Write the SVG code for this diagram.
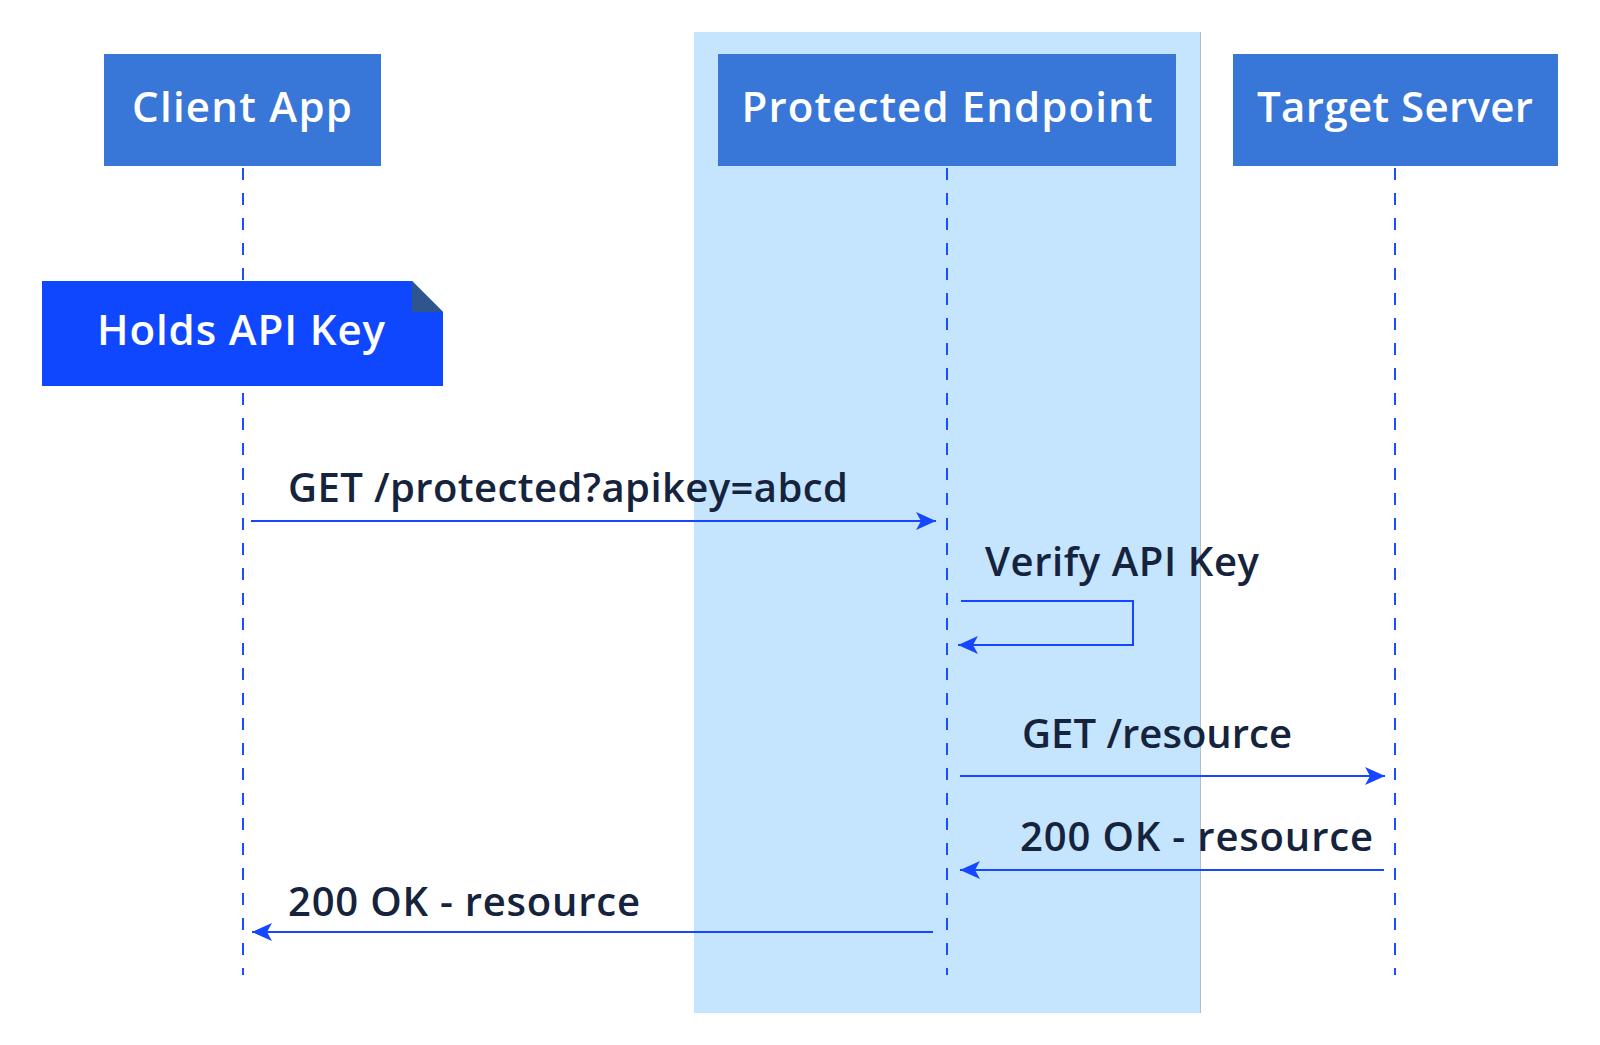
<svg xmlns="http://www.w3.org/2000/svg" width="1600" height="1045" viewBox="0 0 1600 1045">
<style>
.actor{fill:#3876d7;}
.actor-text{fill:#ffffff;font-family:"Open Sans","Liberation Sans",sans-serif;font-weight:600;font-size:42px;text-anchor:middle;}
.life{stroke:#1a4fff;stroke-width:2;stroke-dasharray:12 13;fill:none;}
.msg{stroke:#1447ff;stroke-width:2;fill:none;}
.msg-text{fill:#15233d;font-family:"Open Sans","Liberation Sans",sans-serif;font-weight:600;font-size:40px;}
.note{fill:#0f47ff;}
.fold{fill:#2f558f;}
</style>
<defs>
<marker id="arrow" markerUnits="userSpaceOnUse" viewBox="0 0 20 18" markerWidth="20" markerHeight="18" refX="20" refY="9" orient="auto">
<path d="M0,0 L20,9 L0,18 L5,9 z" fill="#1447ff"/>
</marker>
</defs>
<rect width="1600" height="1045" fill="#ffffff"/>
<g id="box-protected">
<rect x="694" y="32" width="506" height="981" fill="#c5e4fd"/>
<line x1="1200.5" y1="32" x2="1200.5" y2="1013" stroke="#bcbcbc" stroke-width="1"/>
</g>
<g id="lifelines">
<line class="life" x1="243" y1="168" x2="243" y2="975"/>
<line class="life" x1="947" y1="168" x2="947" y2="975"/>
<line class="life" x1="1395" y1="168" x2="1395" y2="975"/>
</g>
<g id="client-app">
<rect class="actor" x="104" y="54" width="277" height="112"/>
<text class="actor-text" x="242" y="122" textLength="220" lengthAdjust="spacing">Client App</text>
</g>
<g id="protected-endpoint">
<rect class="actor" x="718" y="54" width="458" height="112"/>
<text class="actor-text" x="947" y="122" textLength="411" lengthAdjust="spacing">Protected Endpoint</text>
</g>
<g id="target-server">
<rect class="actor" x="1233" y="54" width="325" height="112"/>
<text class="actor-text" x="1395" y="122" textLength="276" lengthAdjust="spacing">Target Server</text>
</g>
<g id="note-holds-api-key">
<polygon class="note" points="42,281 412,281 443,312 443,386 42,386"/>
<polygon class="fold" points="412,281 443,312 412,312"/>
<text class="actor-text" x="241" y="345" textLength="288" lengthAdjust="spacing">Holds API Key</text>
</g>
<g id="connectors">
<line class="msg" x1="251" y1="521" x2="936" y2="521" marker-end="url(#arrow)"/>
<path class="msg" d="M961,601 H1133 V645 H958" marker-end="url(#arrow)"/>
<line class="msg" x1="960" y1="776" x2="1385" y2="776" marker-end="url(#arrow)"/>
<line class="msg" x1="1384" y1="870" x2="960" y2="870" marker-end="url(#arrow)"/>
<line class="msg" x1="933" y1="932" x2="252" y2="932" marker-end="url(#arrow)"/>
</g>
<g id="labels">
<text class="msg-text" x="288" y="502" textLength="560" lengthAdjust="spacing">GET /protected?apikey=abcd</text>
<text class="msg-text" x="985" y="576" textLength="274" lengthAdjust="spacing">Verify API Key</text>
<text class="msg-text" x="1022" y="748" textLength="270" lengthAdjust="spacing">GET /resource</text>
<text class="msg-text" x="1020" y="851" textLength="353" lengthAdjust="spacing">200 OK - resource</text>
<text class="msg-text" x="288" y="916" textLength="352" lengthAdjust="spacing">200 OK - resource</text>
</g>
</svg>
